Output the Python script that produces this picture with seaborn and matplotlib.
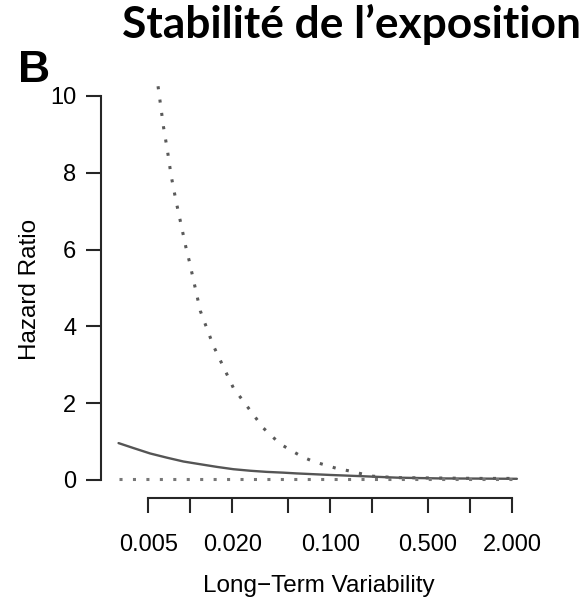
import numpy as np
import pandas as pd
import matplotlib
matplotlib.use("Agg")
import matplotlib.pyplot as plt
import matplotlib.ticker as mticker
import seaborn as sns

# values
x_est = [0.00307, 0.00393, 0.00516, 0.00681, 0.00894, 0.01175, 0.0155,
         0.0203, 0.0268, 0.0352, 0.0463, 0.0577, 0.1, 0.163, 0.3, 0.6,
         1.2, 2.16]
hr_est = [0.96, 0.83, 0.69, 0.58, 0.48, 0.41, 0.34,
          0.28, 0.24, 0.21, 0.19, 0.17, 0.13, 0.10, 0.06, 0.04,
          0.035, 0.03]

x_upper = [0.0057, 0.00593, 0.00643, 0.00687, 0.0073, 0.00788, 0.00857,
           0.00934, 0.00982, 0.0118, 0.0146, 0.0203, 0.0333, 0.0438,
           0.0531, 0.0626, 0.0758, 0.0919, 0.1114, 0.1349, 0.1633, 0.198,
           0.3, 0.6, 1.2, 2.16]
hr_upper = [10.6, 10.16, 9.20, 8.57, 7.92, 7.29, 6.67,
            6.03, 5.71, 4.4, 3.5, 2.4, 1.35, 0.94,
            0.76, 0.61, 0.48, 0.39, 0.30, 0.24, 0.17, 0.10,
            0.06, 0.05, 0.04, 0.04]

x_lower = [0.00307, 0.05, 0.3, 2.16]
hr_lower = [0.02, 0.02, 0.02, 0.02]

x_ticks = [0.005, 0.01, 0.02, 0.05, 0.1, 0.2, 0.5, 1, 2]
x_ticklabels = ["0.005", "", "0.020", "", "0.100", "", "0.500", "", "2.000"]
y_ticks = [0, 2, 4, 6, 8, 10]

title = "Stabilité de l\u2019exposition"
panel = "B"
xlabel = "Long\u2212Term Variability"
ylabel = "Hazard Ratio"

sns.set_style("ticks")
plt.rcParams['font.family'] = ['Liberation Sans', 'DejaVu Sans']

W, H = 583, 600
fig = plt.figure(figsize=(W / 100, H / 100), dpi=100)
ax = fig.add_axes([101 / W, 1 - 498 / H, 435 / W, 417 / H])

dot = (0, (1, 3.4))
sns.lineplot(x=x_est, y=hr_est, ax=ax, color="#555555", lw=1.7)
sns.lineplot(x=x_upper, y=hr_upper, ax=ax, color="#5a5a5a", lw=2.2,
             linestyle=dot)
sns.lineplot(x=x_lower, y=hr_lower, ax=ax, color="#777777", lw=2.2,
             linestyle=dot)

ax.set_xscale("log")
ax.set_xlim(0.0023, 2.958)
ax.set_ylim(-0.47, 10.39)

ax.xaxis.set_major_locator(mticker.FixedLocator(x_ticks))
ax.xaxis.set_major_formatter(mticker.FixedFormatter(x_ticklabels))
ax.xaxis.set_minor_locator(mticker.NullLocator())
ax.set_yticks(y_ticks)
ax.set_yticklabels([str(v) for v in y_ticks])

sns.despine(ax=ax)
ax.spines["left"].set_bounds(0, 10)
ax.spines["bottom"].set_bounds(0.005, 2)
for s in ("left", "bottom"):
    ax.spines[s].set_linewidth(1.5)
    ax.spines[s].set_color("#262626")
ax.tick_params(axis="both", length=10.8, width=1.5, color="#262626",
               labelsize=17, labelcolor="black")
ax.tick_params(axis="x", pad=15)
ax.tick_params(axis="y", pad=7)

ax.set_xlabel(xlabel, fontsize=17.5, labelpad=14, color="black")
ax.set_ylabel(ylabel, fontsize=17.5, labelpad=6.5, color="black")

fig.text(18 / W, 1 - 82 / H, panel, fontsize=32, fontweight="bold",
         va="baseline", ha="left", color="black")
t = fig.text(122 / W, 1 - 38 / H, title, fontsize=30, fontweight="bold",
             family=["Lato", "DejaVu Sans"], va="baseline", ha="left",
             color="black")
fig.canvas.draw()
w = t.get_window_extent().width
t.set_fontsize(30 * 458 / w)

fig.savefig("out.png", dpi=100)
plt.close(fig)
